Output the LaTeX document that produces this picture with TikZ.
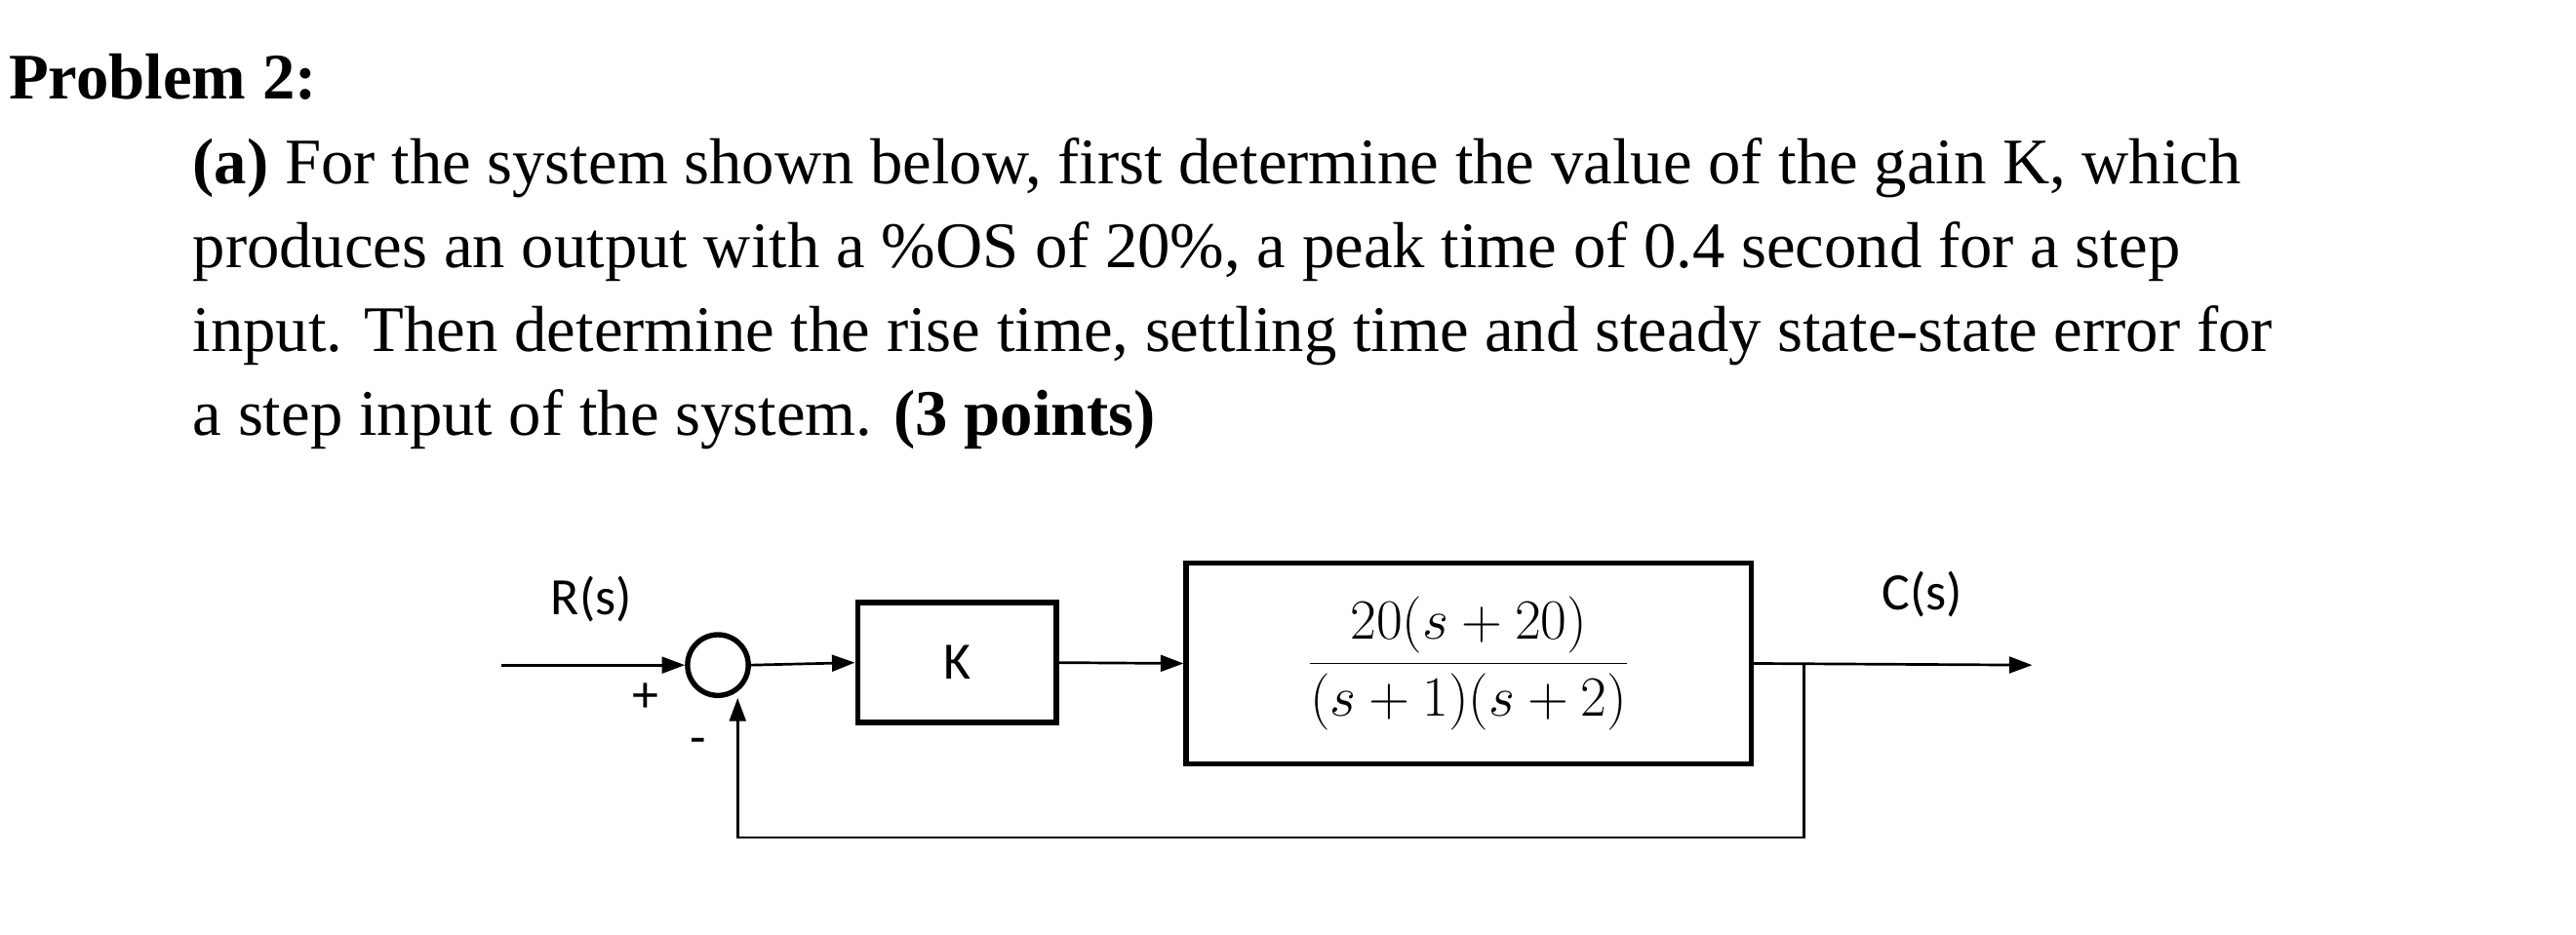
\documentclass[tikz,border=0pt]{standalone}
\usepackage{fontspec}
\setmainfont{Liberation Serif}
\newfontfamily\diag{Carlito}
\usetikzlibrary{arrows.meta}
\begin{document}
\begin{tikzpicture}[x=0.5pt,y=-0.5pt,
  txt/.style={anchor=base west,inner sep=0,font=\fontsize{19.8}{22}\selectfont},
  lbl/.style={font=\diag\fontsize{16}{18}\selectfont,inner sep=0},
  blk/.style={draw,line width=1.6pt,inner sep=0},
  sig/.style={line width=0.8pt,-{Triangle[length=7pt,width=5pt]}}]
\useasboundingbox (0,0) rectangle (1568,569);
\node[txt] (p) at (5,60) {\textbf{Problem 2:}};
\node[txt] (l1) at (117,112) {\textbf{(a)} For the system shown below, first determine the value of the gain K, which};
\node[txt] (l2) at (117,163) {produces an output with a \%OS of 20\%, a peak time of 0.4 second for a step};
\node[txt] (l3) at (117,214) {input. Then determine the rise time, settling time and steady state-state error for};
\node[txt] (l4) at (117,265) {a step input of the system. \textbf{(3 points)}};
\coordinate (in) at (305,405);
\node[draw,circle,line width=1.6pt,minimum size=18.5pt,inner sep=0] (sum) at (437,405) {};
\node[blk,minimum width=60.5pt,minimum height=36.5pt] (k) at (582.5,403.5) {\diag\fontsize{16}{18}\selectfont K};
\node[blk,minimum width=172pt,minimum height=61pt] (g) at (894,404) {\fontsize{19}{22}\selectfont$\displaystyle\frac{20(s+20)}{(s+1)(s+2)}$};
\coordinate (out) at (1237,405);
\coordinate (br) at (1098,405);
\coordinate (fb1) at (1098,510);
\coordinate (fb2) at (449,510);
\draw[sig] (in) -- (sum.west);
\draw[sig] (sum.east) -- (k.west);
\draw[sig] (k.east) -- (g.west);
\draw[sig] (g.east) -- (out);
\draw[sig] (br) -- (fb1) -- (fb2) -- (fb2 |- sum.south);
\node[lbl] (r) at (360,365) {R(s)};
\node[lbl] (c) at (1170,362) {C(s)};
\node[lbl] (plus) at (393,425) {+};
\node[lbl] (minus) at (425,455) {-};
\end{tikzpicture}
\end{document}
